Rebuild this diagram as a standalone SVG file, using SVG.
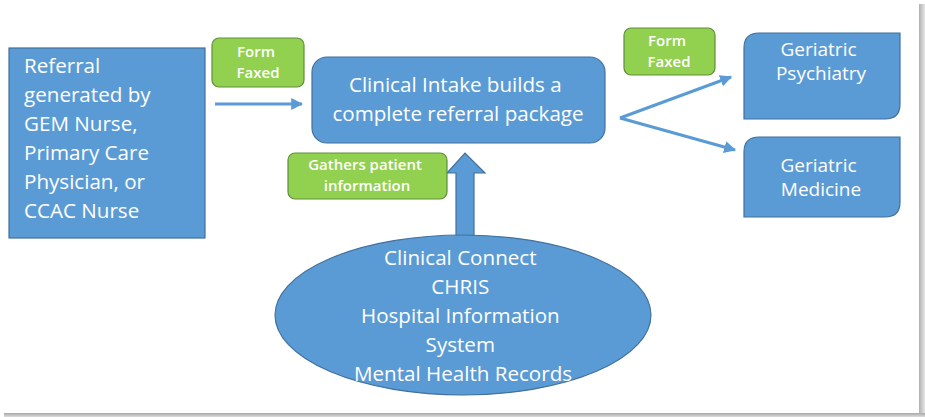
<svg xmlns="http://www.w3.org/2000/svg" width="925" height="417" viewBox="0 0 925 417">
  <defs>
    <style>
      .blue { fill: #5B9BD5; stroke: #41719C; stroke-width: 1.2; }
      .green { fill: #92D050; stroke: #5E8F3A; stroke-width: 1.2; }
      .t { font-family: "Open Sans", Lato, sans-serif; fill: #ffffff; }
      .big { font-size: 20.6px; }
      .mid { font-size: 19px; }
      .small { font-size: 15px; font-weight: 600; }
      .conn { stroke: #5B9BD5; stroke-width: 3; fill: none; }
    </style>
    <marker id="head" viewBox="0 0 10 10" refX="9" refY="5" markerWidth="4" markerHeight="4" orient="auto" markerUnits="strokeWidth">
      <path d="M0,0 L10,5 L0,10 z" fill="#5B9BD5"/>
    </marker>
    <linearGradient id="shR" x1="0" y1="0" x2="1" y2="0">
      <stop offset="0" stop-color="#b0b0b0"/>
      <stop offset="1" stop-color="#e6e6e6"/>
    </linearGradient>
    <linearGradient id="shB" x1="0" y1="0" x2="0" y2="1">
      <stop offset="0" stop-color="#a8a8a8"/>
      <stop offset="1" stop-color="#dcdcdc"/>
    </linearGradient>
  </defs>

  <!-- page with drop shadow -->
  <rect x="0" y="0" width="925" height="417" fill="#ffffff"/>
  <rect x="919" y="4" width="6" height="413" fill="url(#shR)"/>
  <rect x="4" y="413" width="921" height="4" fill="url(#shB)"/>

  <!-- connectors -->
  <g id="connectors">
    <line class="conn" x1="215" y1="104" x2="302" y2="104" marker-end="url(#head)"/>
    <line class="conn" x1="620" y1="118" x2="731" y2="77" marker-end="url(#head)"/>
    <line class="conn" x1="620" y1="118" x2="735" y2="150" marker-end="url(#head)"/>
    <path id="up-arrow" class="blue" d="M456,238 L456,173 L447,173 L465,153 L485,173 L474,173 L474,238 Z"/>
  </g>

  <g id="referral">
    <rect class="blue" x="9" y="48" width="196" height="190"/>
    <text class="t big" x="24">
      <tspan x="24" y="73">Referral</tspan>
      <tspan x="24" y="102">generated by</tspan>
      <tspan x="24" y="131">GEM Nurse,</tspan>
      <tspan x="24" y="160">Primary Care</tspan>
      <tspan x="24" y="189">Physician, or</tspan>
      <tspan x="24" y="218">CCAC Nurse</tspan>
    </text>
  </g>

  <g id="form-faxed-1">
    <rect class="green" x="212" y="38" width="92" height="49" rx="7"/>
    <text class="t small" text-anchor="middle">
      <tspan x="258" y="57">Form</tspan>
      <tspan x="258" y="78">Faxed</tspan>
    </text>
  </g>

  <g id="intake">
    <rect class="blue" x="312" y="57" width="293" height="86" rx="15"/>
    <text class="t big" text-anchor="middle">
      <tspan x="458" y="92">Clinical Intake builds a</tspan>
      <tspan x="458" y="121">complete referral package</tspan>
    </text>
  </g>

  <g id="gathers">
    <rect class="green" x="288" y="153" width="159" height="46" rx="7"/>
    <text class="t small" text-anchor="middle">
      <tspan x="367" y="170">Gathers patient</tspan>
      <tspan x="367" y="191">information</tspan>
    </text>
  </g>

  <g id="form-faxed-2">
    <rect class="green" x="624" y="28" width="91" height="47" rx="7"/>
    <text class="t small" text-anchor="middle">
      <tspan x="669" y="46">Form</tspan>
      <tspan x="669" y="67">Faxed</tspan>
    </text>
  </g>

  <g id="geri-psych">
    <path class="blue" d="M759,33 L900,33 L900,104 Q900,119 885,119 L744,119 L744,48 Q744,33 759,33 Z"/>
    <text class="t mid" text-anchor="middle">
      <tspan x="821" y="56">Geriatric</tspan>
      <tspan x="821" y="80">Psychiatry</tspan>
    </text>
  </g>

  <g id="geri-med">
    <path class="blue" d="M759,137 L900,137 L900,202 Q900,217 885,217 L744,217 L744,152 Q744,137 759,137 Z"/>
    <text class="t mid" text-anchor="middle">
      <tspan x="821" y="172">Geriatric</tspan>
      <tspan x="821" y="196">Medicine</tspan>
    </text>
  </g>

  <g id="sources">
    <ellipse class="blue" cx="463" cy="315" rx="188" ry="80"/>
    <text class="t big" text-anchor="middle">
      <tspan x="463" y="265">Clinical Connect</tspan>
      <tspan x="463" y="294">CHRIS</tspan>
      <tspan x="463" y="323">Hospital Information</tspan>
      <tspan x="463" y="352">System</tspan>
      <tspan x="463" y="381">Mental Health Records</tspan>
    </text>
  </g>
</svg>
